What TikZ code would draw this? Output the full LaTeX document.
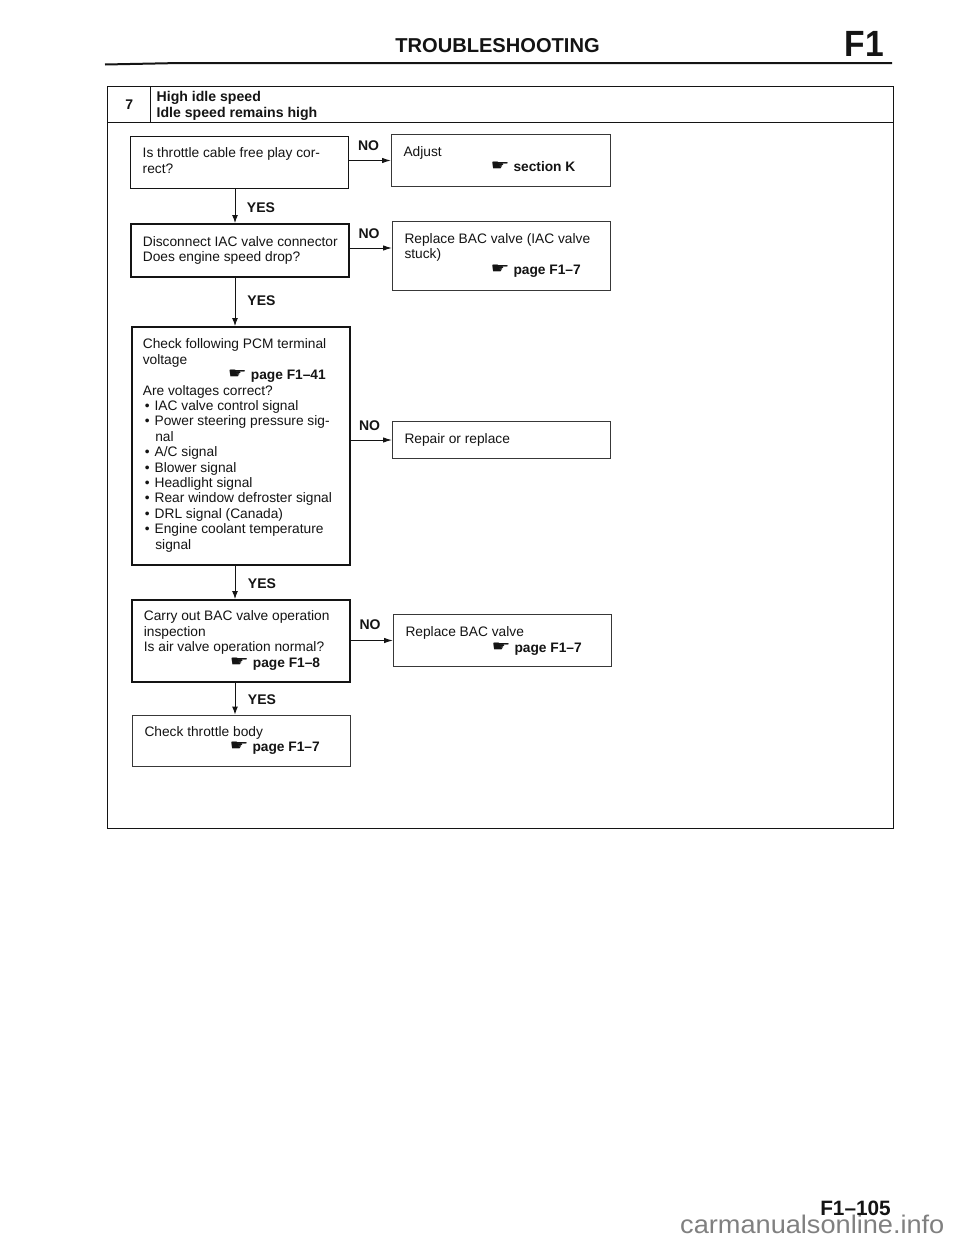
\documentclass[tikz,border=0pt]{standalone}
\usepackage{fontspec}
\usepackage{graphicx}
\setmainfont{Liberation Sans}
\newfontfamily\symfont{DejaVu Sans}
\usetikzlibrary{arrows.meta}
\definecolor{ink}{gray}{0.08}
\newcommand{\bx}[5]{\begin{minipage}[c][#2pt][t]{#1pt}\parindent=0pt\leftskip=#4pt\fontsize{13.75}{15.4}\selectfont\vspace*{#3pt}#5\par\end{minipage}}
\newcommand{\pgref}[2]{\hspace*{#1pt}\hspace{-2pt}\raisebox{1pt}{\resizebox{19pt}{8.5pt}{\symfont ☛}}\hspace{4pt}{\bfseries #2}}
\newcommand{\itm}[1]{\hspace*{2pt}•\hspace{5pt}#1}
\newcommand{\itc}[1]{\hspace*{12.5pt}#1}
\tikzset{
  x=1pt,y=-1pt,
  every node/.style={text=ink},
  thick box/.style={draw=ink,line width=1.7pt,inner sep=0pt,anchor=north west},
  mid box/.style={draw=ink,line width=1.4pt,inner sep=0pt,anchor=north west},
  thin box/.style={draw=ink!85,line width=1pt,inner sep=0pt,anchor=north west},
  frame cell/.style={draw=ink,line width=1.4pt,inner sep=0pt,anchor=north west},
  label text/.style={font=\fontsize{14}{15}\selectfont\bfseries,inner sep=0pt},
  yes arrow/.style={draw=ink,line width=1pt,-{Latex[length=8pt,width=6pt]}},
  no arrow/.style={draw=ink,line width=1pt,-{Latex[length=9pt,width=5.5pt]}},
  rule line/.style={draw=ink,line width=2pt}
}
\begin{document}
\begin{tikzpicture}
\useasboundingbox (0,0) rectangle (960,1242);
\fill[white] (0,0) rectangle (960,1242);
% page furniture
\node[font=\fontsize{20.1}{22}\selectfont\bfseries,inner sep=0pt] (title) at (497.5,46) {TROUBLESHOOTING};
\node[font=\fontsize{36.5}{38}\selectfont\bfseries,inner sep=0pt,anchor=base east] (sect) at (884,56) {\scalebox{0.92}[1]{F1}};
\coordinate (ruleL) at (105,64.5);
\coordinate (ruleM) at (180,63);
\coordinate (ruleR) at (892,63);
\draw[rule line] (ruleL) -- (ruleM) -- (ruleR);
\node[font=\fontsize{25.5}{26}\selectfont,inner sep=0pt,anchor=base west,text=black!50] (mark) at (680,1233) {\scalebox{1.065}[1]{carmanualsonline.info}};
\node[font=\fontsize{20.8}{22}\selectfont\bfseries,inner sep=0pt,anchor=base east] (folio) at (891,1215) {F1–105};
% frame
\node[frame cell,minimum width=786pt,minimum height=706pt] (body) at (107,122) {};
\node[frame cell,minimum width=43pt,minimum height=36pt,font=\fontsize{14}{15}\selectfont\bfseries] (num) at (107,86) {\raisebox{-1pt}{7}};
\node[frame cell,minimum width=743pt,minimum height=36pt] (head) at (150,86) {\bx{743}{36}{5}{6}{\bfseries\fontsize{14.1}{15.4}\selectfont High idle speed\\Idle speed remains high}};
% left column
\node[mid box] (b1) at (130,136) {\bx{218}{52}{11}{12}{Is throttle cable free play cor-\\rect?}};
\node[thick box] (b2) at (130,223) {\bx{218}{53}{12.5}{12}{Disconnect IAC valve connector\\Does engine speed drop?}};
\node[thick box] (b3) at (131,326) {\bx{218}{238}{12}{11}{Check following PCM terminal\\voltage\\\pgref{87}{page F1–41}\\Are voltages correct?\\\itm{IAC valve control signal}\\\itm{Power steering pressure sig-}\\\itc{nal}\\\itm{A/C signal}\\\itm{Blower signal}\\\itm{Headlight signal}\\\itm{Rear window defroster signal}\\\itm{DRL signal (Canada)}\\\itm{Engine coolant temperature}\\\itc{signal}}};
\node[thick box] (b4) at (131,599) {\bx{218}{82}{11}{12}{Carry out BAC valve operation\\inspection\\Is air valve operation normal?\\\pgref{88}{page F1–8}}};
\node[thin box] (b5) at (132,714.5) {\bx{218}{51.5}{11.5}{12}{Check throttle body\\\pgref{87}{page F1–7}}};
% right column
\node[thin box] (r1) at (391,134) {\bx{219}{52}{12}{12}{Adjust\\\pgref{89}{section K}}};
\node[thin box] (r2) at (392,221) {\bx{218}{69}{12}{12}{Replace BAC valve (IAC valve\\stuck)\\\pgref{88}{page F1–7}}};
\node[thin box] (r3) at (392,421) {\bx{218}{37}{12}{12}{Repair or replace}};
\node[thin box] (r4) at (393,614) {\bx{218}{52}{12.5}{12}{Replace BAC valve\\\pgref{88}{page F1–7}}};
% connectors
\coordinate (ax) at (235,0);
\draw[yes arrow] (b1.south -| ax) -- (b2.north -| ax);
\draw[yes arrow] (b2.south -| ax) -- (b3.north -| ax);
\draw[yes arrow] (b3.south -| ax) -- (b4.north -| ax);
\draw[yes arrow] (b4.south -| ax) -- (b5.north -| ax);
\draw[no arrow] (b1.east |- r1.west) -- (r1.west);
\coordinate (n2) at (392,248);
\draw[no arrow] (b2.east |- n2) -- (r2.west |- n2);
\draw[no arrow] (b3.east |- r3.west) -- (r3.west);
\draw[no arrow] (b4.east |- r4.west) -- (r4.west);
% labels
\node[label text] (y1) at (261,208) {YES};
\node[label text] (y2) at (261.5,301) {YES};
\node[label text] (y3) at (262,584) {YES};
\node[label text] (y4) at (262,700) {YES};
\node[label text] (n1) at (368.5,146) {NO};
\node[label text] (no2) at (369,233.5) {NO};
\node[label text] (no3) at (369.5,425.5) {NO};
\node[label text] (no4) at (370,625) {NO};
\end{tikzpicture}
\end{document}
